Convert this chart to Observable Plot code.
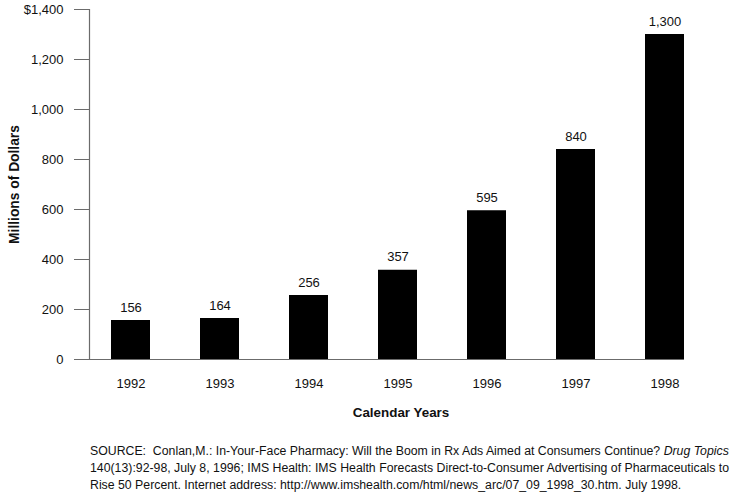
<!DOCTYPE html>
<html><head><meta charset="utf-8">
<script src="https://cdn.jsdelivr.net/npm/d3@7"></script>
<script src="https://cdn.jsdelivr.net/npm/@observablehq/plot@0.6"></script>
<style>
body{margin:0;background:#fff;font-family:"Liberation Sans",Arial,sans-serif;}
#chart{position:absolute;left:0;top:0;}
#caption{position:absolute;left:90px;top:443px;font-size:12.3px;line-height:17px;color:#111;white-space:nowrap;}
</style></head><body>
<div id="chart"></div>
<div id="caption"></div>
<script>
const years = ["1992", "1993", "1994", "1995", "1996", "1997", "1998"];
const values = [156, 164, 256, 357, 595, 840, 1300];
const yTicks = [0, 200, 400, 600, 800, 1000, 1200, 1400];
const yLabel = "Millions of Dollars";
const xLabel = "Calendar Years";
const captionLines = [
  "SOURCE:&nbsp; Conlan,M.: In-Your-Face Pharmacy: Will the Boom in Rx Ads Aimed at Consumers Continue? <i>Drug Topics</i>",
  "140(13):92-98, July 8, 1996; IMS Health: IMS Health Forecasts Direct-to-Consumer Advertising of Pharmaceuticals to",
  "Rise 50 Percent. Internet address: http://www.imshealth.com/html/news_arc/07_09_1998_30.htm. July 1998."
];

const data = years.map((year, i) => ({year, value: values[i]}));
const fmt = d3.format(",");
const axisGray = "#6b6b6b";
const fs = 13;

const chart = Plot.plot({
  width: 730, height: 430,
  marginTop: 9, marginBottom: 71, marginLeft: 89, marginRight: 46,
  style: {fontFamily: '"Liberation Sans", Arial, sans-serif', fontSize: "13px", color: "#111", background: "white"},
  x: {domain: years, paddingInner: 0.56, paddingOuter: 0.09, align: 1, axis: null},
  y: {domain: [0, 1400], axis: null},
  marks: [
    Plot.barY(data, {x: "year", y: "value", fill: "black"}),
    Plot.axisY({ticks: yTicks, tickSize: 15, tickPadding: 11, stroke: axisGray, fill: "#111", fontSize: fs,
      tickFormat: d => (d === 1400 ? "$" : "") + fmt(d), label: null}),
    Plot.axisX({tickSize: 0, tickPadding: 19, label: null, fill: "#111", fontSize: fs}),
    Plot.frame({anchor: "left", stroke: axisGray, strokeWidth: 1.2}),
    Plot.ruleY([0], {stroke: axisGray, strokeWidth: 1.2}),
    Plot.text(data, {x: "year", y: "value", text: d => fmt(d.value), dy: -13, fill: "#111", fontSize: fs}),
    Plot.text([yLabel], {text: d => d, frameAnchor: "left", rotate: -90, dx: -75, fontSize: 13.8,
      textAnchor: "middle", lineAnchor: "middle", fontWeight: "bold", fill: "#111"}),
    Plot.text([xLabel], {text: d => d, frameAnchor: "bottom", dx: 14, dy: 53, fontSize: 13.4,
      textAnchor: "middle", lineAnchor: "middle", fontWeight: "bold", fill: "#111"})
  ]
});
document.getElementById("chart").appendChild(chart);
document.getElementById("caption").innerHTML = captionLines.join("<br>");
</script>
</body></html>
